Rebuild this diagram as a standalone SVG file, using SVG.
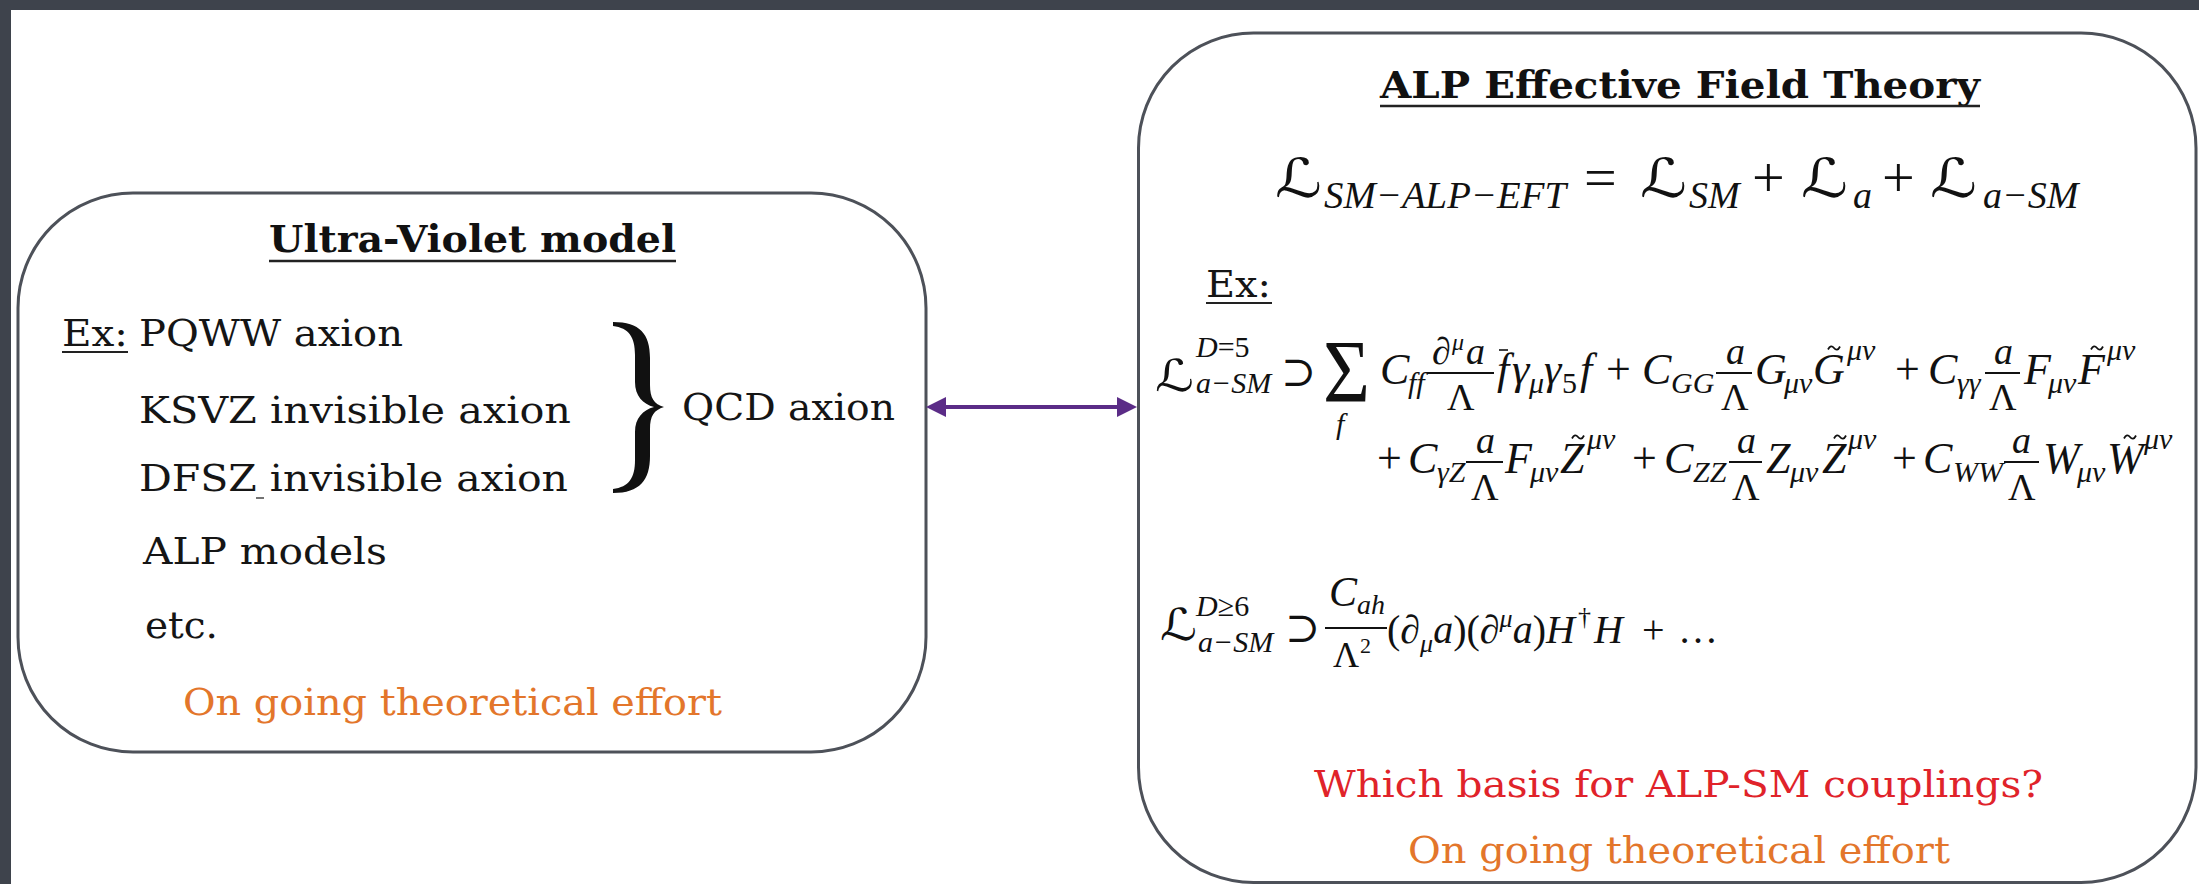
<svg xmlns="http://www.w3.org/2000/svg" width="2199" height="884" viewBox="0 0 2199 884">
<defs>
<style>
.tw{font-family:"DejaVu Serif","Liberation Serif",serif;font-size:38px;fill:#151515}
.twb{font-family:"DejaVu Serif","Liberation Serif",serif;font-size:38px;font-weight:bold;fill:#111}
.orange{fill:#e3762b}
.red{fill:#e0232a}
.box{fill:#fff;stroke:#4d5159;stroke-width:3}
.ul{stroke:#222;stroke-width:2.5}
.m{font-family:"Liberation Serif","DejaVu Serif",serif;font-style:italic;fill:#111}
.up{font-style:normal}
.L{font-family:"DejaVu Sans","DejaVu Serif",serif;fill:#111}
.bar{stroke:#111;stroke-width:2}
.tl{fill:none;stroke:#111;stroke-width:1.8}
</style>
<path id="tilde" d="M-6,1.5 C-4,-2.5 -2,-2.5 0,0 S4,2.5 6,-1.5"/>
<marker id="ah" viewBox="0 0 20 20" refX="0" refY="10" markerWidth="20" markerHeight="20" markerUnits="userSpaceOnUse" orient="auto-start-reverse">
<path d="M0,0 L20,10 L0,20 Z" fill="#5b2c87"/>
</marker>
</defs>
<rect x="0" y="0" width="2199" height="884" fill="#3e434c"/>
<rect x="11" y="10" width="2188" height="874" fill="#fff"/>

<g id="uv-model">
<rect class="box" x="18" y="193" width="908" height="559" rx="115" ry="115"/>
<text class="twb" x="269" y="252" textLength="407" lengthAdjust="spacingAndGlyphs">Ultra-Violet model</text>
<line class="ul" x1="269" y1="261" x2="676" y2="261"/>
<text class="tw" x="62" y="346" textLength="66" lengthAdjust="spacingAndGlyphs">Ex:</text>
<line class="ul" x1="62" y1="352" x2="128" y2="352" style="stroke-width:2"/>
<text class="tw" x="139" y="346" textLength="264" lengthAdjust="spacingAndGlyphs">PQWW axion</text>
<text class="tw" x="139" y="423" textLength="432" lengthAdjust="spacingAndGlyphs">KSVZ invisible axion</text>
<text class="tw" x="139" y="491" textLength="429" lengthAdjust="spacingAndGlyphs">DFSZ invisible axion</text>
<line x1="256" y1="498" x2="264" y2="498" stroke="#444" stroke-width="1.5"/>
<text class="tw" x="143" y="564" textLength="244" lengthAdjust="spacingAndGlyphs">ALP models</text>
<text class="tw" x="145" y="638" textLength="73" lengthAdjust="spacingAndGlyphs">etc.</text>
<path d="M613,322 C640,322 650,334 650,358 L650,385 C650,398 654,404 664,407 C654,410 650,416 650,429 L650,456 C650,480 640,493 613,493 L613,489 C629,487 635,478 635,460 L635,432 C635,418 643,410 654,407 C643,404 635,396 635,382 L635,355 C635,337 629,328 613,326 Z" fill="#111"/>
<text class="tw" x="682" y="420" textLength="213" lengthAdjust="spacingAndGlyphs">QCD axion</text>
<text class="tw orange" x="183" y="715" textLength="539" lengthAdjust="spacingAndGlyphs">On going theoretical effort</text>
</g>

<g id="alp-eft">
<rect class="box" x="1138.5" y="33" width="1057.5" height="849.5" rx="115" ry="115"/>
<text class="twb" x="1380" y="98" textLength="600" lengthAdjust="spacingAndGlyphs">ALP Effective Field Theory</text>
<line class="ul" x1="1380" y1="106" x2="1980" y2="106"/>

<g id="eq-main">
<text class="L" x="1275" y="197" font-size="54" textLength="47" lengthAdjust="spacingAndGlyphs">ℒ</text>
<text class="m" x="1324" y="208" font-size="38" textLength="242" lengthAdjust="spacingAndGlyphs">SM−ALP−EFT</text>
<text class="m up" x="1584" y="197" font-size="58">=</text>
<text class="L" x="1640" y="197" font-size="54" textLength="47" lengthAdjust="spacingAndGlyphs">ℒ</text>
<text class="m" x="1689" y="208" font-size="38">SM</text>
<text class="m up" x="1752" y="197" font-size="58">+</text>
<text class="L" x="1801" y="197" font-size="54" textLength="47" lengthAdjust="spacingAndGlyphs">ℒ</text>
<text class="m" x="1853" y="208" font-size="38">a</text>
<text class="m up" x="1882" y="197" font-size="58">+</text>
<text class="L" x="1930" y="197" font-size="54" textLength="47" lengthAdjust="spacingAndGlyphs">ℒ</text>
<text class="m" x="1983" y="208" font-size="38">a−SM</text>
</g>

<text class="tw" x="1206" y="297" textLength="65" lengthAdjust="spacingAndGlyphs">Ex:</text>
<line class="ul" x1="1206" y1="303" x2="1272" y2="303" style="stroke-width:2"/>

<g id="eq-d5">
<text class="L" x="1155" y="391" font-size="44" textLength="39" lengthAdjust="spacingAndGlyphs">ℒ</text>
<text class="m" x="1196" y="357" font-size="30">D<tspan class="up">=5</tspan></text>
<text class="m" x="1196" y="393" font-size="30">a−SM</text>
<text class="m up" x="1281" y="386" font-size="42">⊃</text>
<text class="m up" x="1323" y="401" font-size="88" textLength="47" lengthAdjust="spacingAndGlyphs">Σ</text>
<text class="m" x="1336" y="434" font-size="30">f</text>
<text class="m" x="1380" y="384" font-size="44">C</text>
<text class="m" x="1408" y="393" font-size="30">ff</text>
<line class="bar" x1="1427" y1="373" x2="1494" y2="373"/>
<text class="m" x="1432" y="364" font-size="38">∂</text>
<text class="m" x="1452" y="350" font-size="24">μ</text>
<text class="m" x="1466" y="364" font-size="38">a</text>
<text class="m up" x="1447" y="410" font-size="38">Λ</text>
<text class="m" x="1497" y="384" font-size="44">f</text>
<line class="bar" x1="1499" y1="350" x2="1508" y2="350" style="stroke-width:1.6"/>
<text class="m" x="1512" y="384" font-size="44">γ</text>
<text class="m" x="1529" y="393" font-size="30">μ</text>
<text class="m" x="1544" y="384" font-size="44">γ</text>
<text class="m up" x="1562" y="393" font-size="30">5</text>
<text class="m" x="1580" y="384" font-size="44">f</text>
<text class="m up" x="1606" y="384" font-size="44">+</text>
<text class="m" x="1642" y="384" font-size="44">C</text>
<text class="m" x="1671" y="393" font-size="30">GG</text>
<line class="bar" x1="1716" y1="373" x2="1752" y2="373"/>
<text class="m" x="1726" y="364" font-size="38">a</text>
<text class="m up" x="1721" y="410" font-size="38">Λ</text>
<text class="m" x="1755" y="384" font-size="44">G</text>
<text class="m" x="1784" y="393" font-size="30">μν</text>
<text class="m" x="1813" y="384" font-size="44">G</text>
<text class="m" x="1847" y="360" font-size="30">μν</text>
<text class="m up" x="1895" y="384" font-size="44">+</text>
<text class="m" x="1928" y="384" font-size="44">C</text>
<text class="m" x="1957" y="393" font-size="30">γγ</text>
<line class="bar" x1="1985" y1="373" x2="2020" y2="373"/>
<text class="m" x="1994" y="364" font-size="38">a</text>
<text class="m up" x="1989" y="410" font-size="38">Λ</text>
<text class="m" x="2024" y="384" font-size="44">F</text>
<text class="m" x="2048" y="393" font-size="30">μν</text>
<text class="m" x="2078" y="384" font-size="44">F</text>
<text class="m" x="2107" y="360" font-size="30">μν</text>
<use href="#tilde" class="tl" x="1834" y="348"/>
<use href="#tilde" class="tl" x="2097" y="348"/>

<text class="m up" x="1377" y="473" font-size="44">+</text>
<text class="m" x="1408" y="473" font-size="44">C</text>
<text class="m" x="1437" y="482" font-size="30">γZ</text>
<line class="bar" x1="1466" y1="462" x2="1503" y2="462"/>
<text class="m" x="1476" y="453" font-size="38">a</text>
<text class="m up" x="1471" y="500" font-size="38">Λ</text>
<text class="m" x="1505" y="473" font-size="44">F</text>
<text class="m" x="1530" y="482" font-size="30">μν</text>
<text class="m" x="1560" y="473" font-size="44">Z</text>
<text class="m" x="1587" y="449" font-size="30">μν</text>
<text class="m up" x="1632" y="473" font-size="44">+</text>
<text class="m" x="1664" y="473" font-size="44">C</text>
<text class="m" x="1693" y="482" font-size="30">ZZ</text>
<line class="bar" x1="1729" y1="462" x2="1762" y2="462"/>
<text class="m" x="1737" y="453" font-size="38">a</text>
<text class="m up" x="1732" y="500" font-size="38">Λ</text>
<text class="m" x="1766" y="473" font-size="44">Z</text>
<text class="m" x="1790" y="482" font-size="30">μν</text>
<text class="m" x="1822" y="473" font-size="44">Z</text>
<text class="m" x="1848" y="449" font-size="30">μν</text>
<text class="m up" x="1892" y="473" font-size="44">+</text>
<text class="m" x="1923" y="473" font-size="44">C</text>
<text class="m" x="1953" y="482" font-size="30">WW</text>
<line class="bar" x1="2004" y1="462" x2="2039" y2="462"/>
<text class="m" x="2012" y="453" font-size="38">a</text>
<text class="m up" x="2008" y="500" font-size="38">Λ</text>
<text class="m" x="2043" y="473" font-size="44">W</text>
<text class="m" x="2077" y="482" font-size="30">μν</text>
<text class="m" x="2107" y="473" font-size="44">W</text>
<text class="m" x="2144" y="449" font-size="30">μν</text>
<use href="#tilde" class="tl" x="1578" y="437"/>
<use href="#tilde" class="tl" x="1840" y="437"/>
<use href="#tilde" class="tl" x="2130" y="437"/>
</g>

<g id="eq-d6">
<text class="L" x="1160" y="640" font-size="44" textLength="37" lengthAdjust="spacingAndGlyphs">ℒ</text>
<text class="m" x="1196" y="616" font-size="30">D<tspan class="up">≥6</tspan></text>
<text class="m" x="1198" y="652" font-size="30">a−SM</text>
<text class="m up" x="1285" y="642" font-size="42">⊃</text>
<text class="m" x="1329" y="606" font-size="42">C</text>
<text class="m" x="1357" y="614" font-size="28">ah</text>
<line class="bar" x1="1325" y1="628" x2="1387" y2="628"/>
<text class="m up" x="1333" y="667" font-size="36">Λ</text>
<text class="m up" x="1360" y="653" font-size="22">2</text>
<text class="m" x="1387" y="643" font-size="40"><tspan class="up">(</tspan>∂<tspan font-size="26" dy="9">μ</tspan><tspan dy="-9">a</tspan><tspan class="up">)(</tspan>∂<tspan font-size="26" dy="-16">μ</tspan><tspan dy="16">a</tspan><tspan class="up">)</tspan></text>
<text class="m" x="1546" y="643" font-size="40">H</text>
<text class="m up" x="1578" y="625" font-size="26">†</text>
<text class="m" x="1594" y="643" font-size="40">H</text>
<text class="m up" x="1642" y="643" font-size="40">+</text>
<text class="m up" x="1678" y="643" font-size="40">…</text>
</g>

<text class="tw red" x="1314" y="797" textLength="729" lengthAdjust="spacingAndGlyphs">Which basis for ALP-SM couplings?</text>
<text class="tw orange" x="1408" y="863" textLength="542" lengthAdjust="spacingAndGlyphs">On going theoretical effort</text>
</g>

<g id="connectors">
<line x1="946" y1="407" x2="1117" y2="407" stroke="#5b2c87" stroke-width="4" marker-start="url(#ah)" marker-end="url(#ah)"/>
</g>
</svg>
